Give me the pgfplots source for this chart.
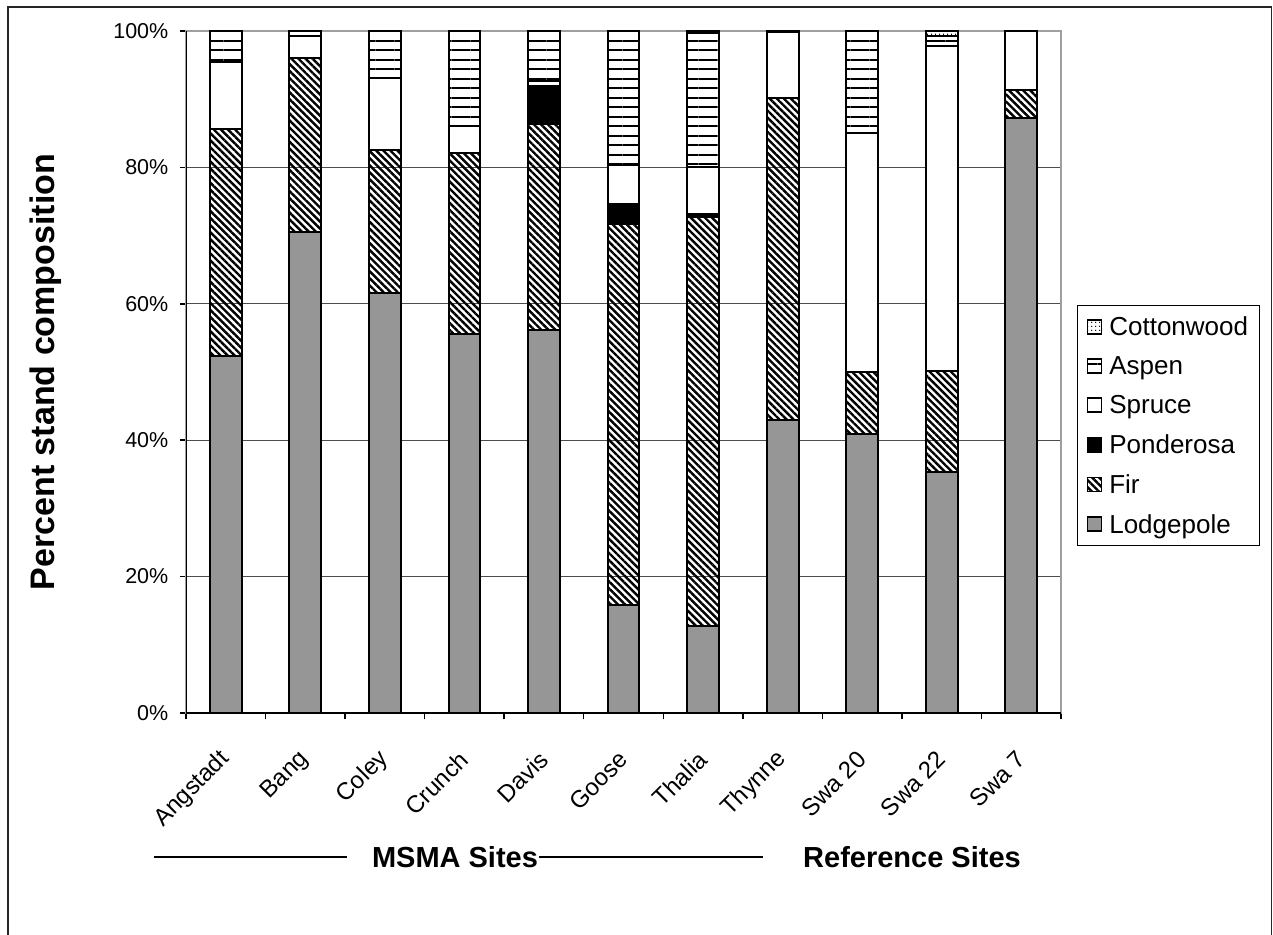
\documentclass[border=0pt]{standalone}
\usepackage{fontspec}
\setmainfont{Liberation Sans}
\usepackage{pgfplots}
\pgfplotsset{compat=1.18}
\usepackage{pgfplotstable}
\usetikzlibrary{patterns.meta}

\definecolor{lodge}{RGB}{150,150,150}

% Stand composition (percent) by site: Lodgepole, Fir, Ponderosa, Spruce, Aspen, Cottonwood
\pgfplotstableread{
x  L     F     P    S     A     C
0  52.4  33.3  0    9.7   4.6   0
1  70.5  25.6  0    3.1   0.8   0
2  61.6  21.0  0    10.5  6.9   0
3  55.6  26.5  0    3.9   14.0  0
4  56.1  30.3  5.6  0.6   7.4   0
5  15.9  55.8  3.0  5.6   19.7  0
6  12.8  59.9  0.5  6.8   19.7  0.3
7  43.0  47.2  0    9.6   0.2   0
8  40.9  9.1   0    35.0  15.0  0
9  35.4  14.8  0    47.6  1.5   0.7
10 87.3  4.0   0    8.7   0     0
}\stand

\pgfplotsset{
  sq/.style={legend image code/.code={
      \draw[##1, line width=1.8pt] (0pt,-7pt) rectangle (14pt,7pt);}},
}

\begin{document}
\begin{tikzpicture}[x=1pt,y=1pt]
\path[use as bounding box] (0,0) rectangle (1273,934);
\draw[line width=1.5pt, black!85] (8,-3) -- (8,927) -- (1271.5,927) -- (1271.5,-3);

\begin{axis}[
  at={(186pt,221pt)}, anchor=south west,
  scale only axis, width=875pt, height=682pt,
  ybar stacked, bar width=0.4,
  xmin=-0.5, xmax=10.5, ymin=0, ymax=100,
  xtick={-0.5,0.5,...,10.5}, x tick label as interval,
  xticklabels={Angstadt,Bang,Coley,Crunch,Davis,Goose,Thalia,Thynne,Swa 20,Swa 22,Swa 7},
  ytick={0,20,...,100},
  yticklabels={0\%,20\%,40\%,60\%,80\%,100\%},
  ymajorgrids, major grid style={black!70, line width=1pt},
  tick pos=left, tick align=outside, major tick length=6.5pt,
  every tick/.style={black, line width=1.5pt},
  axis line style={draw=gray!75, line width=1.6pt},
  xticklabel style={font=\fontsize{24}{28}\selectfont, rotate=45, anchor=east, inner sep=0pt},
  xticklabel shift=36pt,
  yticklabel style={font=\fontsize{21.5}{25}\selectfont, inner sep=0pt},
  yticklabel shift=11pt,
  every axis plot/.append style={draw=black, line width=2pt},
  reverse legend,
  legend cell align=left,
  legend style={at={(1.0183,0.598)}, anchor=north west, draw=black, line width=1pt,
    font=\fontsize{26}{30}\selectfont, row sep=15.5pt, inner xsep=9pt, inner ysep=9pt,
    /tikz/every odd column/.append style={column sep=5pt}},
]
\addplot[sq, fill=lodge] table[x=x, y=L] {\stand};
\addlegendentry{Lodgepole}
\addplot[sq, pattern={Lines[angle=-45, distance=5pt, line width=2.4pt]}, pattern color=black] table[x=x, y=F] {\stand};
\addlegendentry{Fir}
\addplot[sq, fill=black] table[x=x, y=P] {\stand};
\addlegendentry{Ponderosa}
\addplot[sq, fill=white] table[x=x, y=S] {\stand};
\addlegendentry{Spruce}
\addplot[sq, pattern={Lines[angle=0, distance=9.5pt, line width=2pt]}, pattern color=black] table[x=x, y=A] {\stand};
\addlegendentry{Aspen}
\addplot[sq, pattern={Dots[distance=4pt, radius=0.8pt]}, pattern color=black] table[x=x, y=C] {\stand};
\addlegendentry{Cottonwood}
\draw[black, line width=1.6pt] (rel axis cs:0,1) -- (rel axis cs:0,0) -- (rel axis cs:1,0);
\end{axis}

\node[rotate=90, font=\bfseries\fontsize{34}{40}\selectfont] at (46,562) {Percent stand composition};
\draw[line width=2pt] (154,77) -- (347,77);
\node[font=\bfseries\fontsize{29}{34}\selectfont] at (455,77) {MSMA Sites};
\draw[line width=2pt] (539,77) -- (763,77);
\node[font=\bfseries\fontsize{29}{34}\selectfont] at (912,77) {Reference Sites};
\end{tikzpicture}
\end{document}
